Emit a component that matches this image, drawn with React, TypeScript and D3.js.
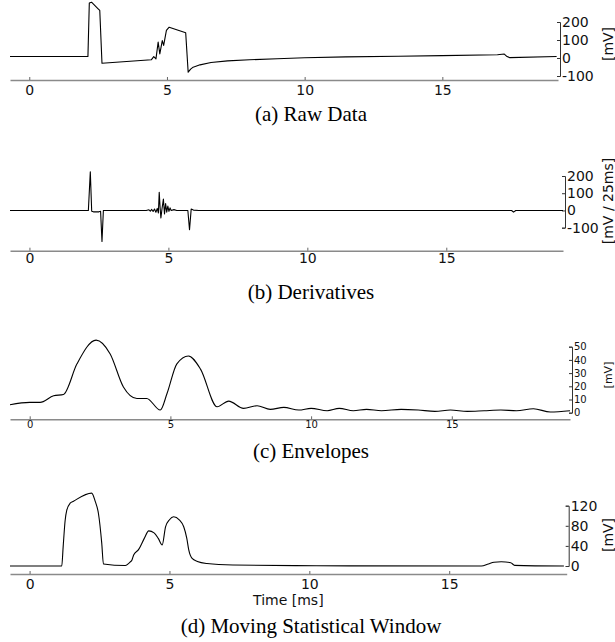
import { useEffect, useRef } from 'react';
import * as d3 from 'd3';

// time axis shared by all four panels [ms]
const xTicks = [0, 5, 10, 15];

// (a) raw data [mV]
const rawTime = [-0.7, 2.13, 2.18, 2.26, 2.5, 2.56, 2.64, 4.43, 4.52, 4.6, 4.68, 4.74, 4.83, 4.88, 4.98, 5.08, 5.68, 5.77, 5.86, 5.95, 6.2, 6.6, 7.2, 8.0, 9.0, 10.0, 11.5, 13.4, 15.0, 17.0, 17.25, 17.35, 17.45, 19.15];
const rawValue = [8, 8, 305, 310, 273, 264, -29, -10, 8, -5, 88, 23, 97, 70, 153, 171, 140, -79, -62, -51, -38, -25, -16, -10, -4, 1, 6, 10, 13, 18, 22, 8, 2, 8];
const rawTicks = [-100, 0, 100, 200];

// (b) derivatives [mV / 25ms]
const derivTime = [-0.7, 2.12, 2.19, 2.24, 2.3, 2.5, 2.56, 2.61, 2.66, 4.2, 4.3, 4.35, 4.4, 4.45, 4.5, 4.55, 4.6, 4.64, 4.67, 4.7, 4.73, 4.77, 4.82, 4.86, 4.9, 4.94, 4.98, 5.02, 5.06, 5.1, 5.2, 5.3, 5.7, 5.76, 5.82, 5.9, 6.1, 17.35, 17.42, 17.5, 19.2];
const derivValue = [0, 0, 225, -5, -8, -8, -5, -180, 0, 0, 4, -4, 6, -6, 8, -10, 12, -15, 106, 20, -44, 10, 66, -20, 40, -10, 25, -5, 15, 0, 5, 0, 0, -112, 8, 2, 0, 0, -10, 0, 0];
const derivTicks = [-100, 0, 100, 200];

// (c) envelopes [mV]
const envTime = [-0.7, 0.0, 0.37, 0.85, 1.2, 1.68, 2.36, 2.86, 3.33, 3.81, 4.16, 4.64, 4.88, 5.23, 5.64, 6.07, 6.66, 7.07, 7.6, 8.08, 8.55, 9.03, 9.56, 10.0, 10.57, 11.0, 11.5, 11.97, 12.5, 13.2, 13.8, 14.4, 14.95, 15.55, 16.15, 16.74, 17.3, 17.9, 18.5, 19.2];
const envValue = [6, 7.8, 7.8, 12.8, 13.8, 37, 55, 44.5, 19.5, 10.8, 10.8, 2, 14.5, 37, 43, 33, 4.5, 8.8, 3.3, 5.3, 2.5, 4, 2, 3.3, 1.5, 3.3, 1.5, 2.5, 1.5, 2.5, 2, 1, 2, 1, 1.5, 2, 1.5, 3, 0.5, 1.5];
const envTicks = [0, 10, 20, 30, 40, 50];

// (d) moving statistical window [mV]
const mswTime = [-0.7, 1.15, 1.2, 1.27, 1.33, 1.45, 1.57, 2.22, 2.35, 2.46, 2.58, 2.64, 3.42, 3.6, 3.66, 3.72, 3.9, 4.1, 4.26, 4.45, 4.6, 4.74, 4.86, 5.0, 5.15, 5.35, 5.51, 5.62, 5.69, 5.81, 6.0, 6.34, 7.27, 10.25, 16.15, 16.4, 16.6, 16.86, 17.2, 17.34, 19.1];
const mswValue = [0, 0, 38, 90, 111, 125, 129, 145, 128, 105, 45, 4, 1, 8, 12, 22, 33, 55, 70, 66, 55, 42, 78, 92, 98, 92, 78, 55, 32, 15, 9, 5, 2, 0.5, 0, 4, 7.5, 8.6, 6.6, 1.3, 0];
const mswTicks = [0, 40, 80, 120];

const FONT = 'DejaVu Sans';

function App() {
    const svgRef = useRef<SVGSVGElement>(null);

    useEffect(() => {
        if (!svgRef.current) return;
        const svg = d3.select(svgRef.current);
        svg.selectAll('*').remove();

        const panels = [
            { t: rawTime, v: rawValue, ticks: rawTicks, yDomain: [-100, 200], yRange: [76, 22], right: 558, axisY: 80, pad: 5, fs: 14,
              label: '[mV]', labelY: 44, caption: '(a) Raw Data', captionY: 121, curve: d3.curveLinear },
            { t: derivTime, v: derivValue, ticks: derivTicks, yDomain: [-100, 200], yRange: [227.7, 176], right: 563, axisY: 250.7, pad: 2.5, fs: 14,
              label: '[mV / 25ms]', labelY: 201, caption: '(b) Derivatives', captionY: 299, curve: d3.curveLinear },
            { t: envTime, v: envValue, ticks: envTicks, yDomain: [0, 50], yRange: [412.7, 346.7], right: 570, axisY: 419.3, pad: 2, fs: 10,
              label: '[mV]', labelY: 375, caption: '(c) Envelopes', captionY: 458, curve: d3.curveMonotoneX },
            { t: mswTime, v: mswValue, ticks: mswTicks, yDomain: [0, 120], yRange: [566, 505.7], right: 566.7, axisY: 574, pad: 5.5, fs: 14,
              label: '[mV]', labelY: 535, caption: '(d) Moving Statistical Window', captionY: 633, curve: d3.curveMonotoneX },
        ];

        panels.forEach((p, i) => {
            const x = d3.scaleLinear().domain([-0.7, 19.2]).range([10, p.right]);
            const y = d3.scaleLinear().domain(p.yDomain).range(p.yRange);

            // x axis, ticks pointing up
            const gx = svg.append('g')
                .attr('transform', `translate(0,${p.axisY})`)
                .call(d3.axisBottom(x).tickValues(xTicks).tickSizeInner(-3).tickSizeOuter(0).tickPadding(p.pad));
            gx.select('.domain').attr('stroke', '#8a8a8a').attr('stroke-width', 1.6);
            gx.selectAll('.tick line').attr('stroke', '#666');
            gx.selectAll('text').attr('font-family', FONT).attr('font-size', p.fs).attr('fill', '#111');

            // y axis on the right, "[" shaped; plain hyphen for negatives
            const gy = svg.append('g')
                .attr('transform', `translate(${p.right + 2},0)`)
                .call(d3.axisRight(y).tickValues(p.ticks).tickFormat(d => String(d))
                    .tickSizeInner(-3).tickSizeOuter(-3).tickPadding(2));
            gy.select('.domain').attr('stroke', '#333');
            gy.selectAll('.tick line').attr('stroke', '#333');
            gy.selectAll('text').attr('font-family', FONT).attr('font-size', p.fs).attr('fill', '#111');

            svg.append('text')
                .attr('transform', `translate(608,${p.labelY}) rotate(-90)`)
                .attr('text-anchor', 'middle')
                .attr('dominant-baseline', 'central')
                .attr('font-family', FONT)
                .attr('font-size', i === 2 ? 11 : 14)
                .attr('fill', '#111')
                .text(p.label);

            const line = d3.line<number>()
                .x((d, k) => x(p.t[k]))
                .y(d => y(d))
                .curve(p.curve);

            svg.append('path')
                .datum(p.v)
                .attr('d', line)
                .attr('fill', 'none')
                .attr('stroke', '#000')
                .attr('stroke-width', 1.1)
                .attr('stroke-linejoin', 'round');

            if (i === 3) {
                svg.append('text')
                    .attr('x', (10 + p.right) / 2)
                    .attr('y', 605)
                    .attr('text-anchor', 'middle')
                    .attr('font-family', FONT)
                    .attr('font-size', 14)
                    .attr('fill', '#111')
                    .text('Time [ms]');
            }

            svg.append('text')
                .attr('x', 311)
                .attr('y', p.captionY)
                .attr('text-anchor', 'middle')
                .attr('font-family', 'Liberation Serif')
                .attr('font-size', 21)
                .attr('fill', '#000')
                .text(p.caption);
        });
    }, []);

    return (
        <svg ref={svgRef} width={615} height={642}
            style={{ position: 'absolute', left: 0, top: 0, background: '#fff' }} />
    );
}

export default App;
